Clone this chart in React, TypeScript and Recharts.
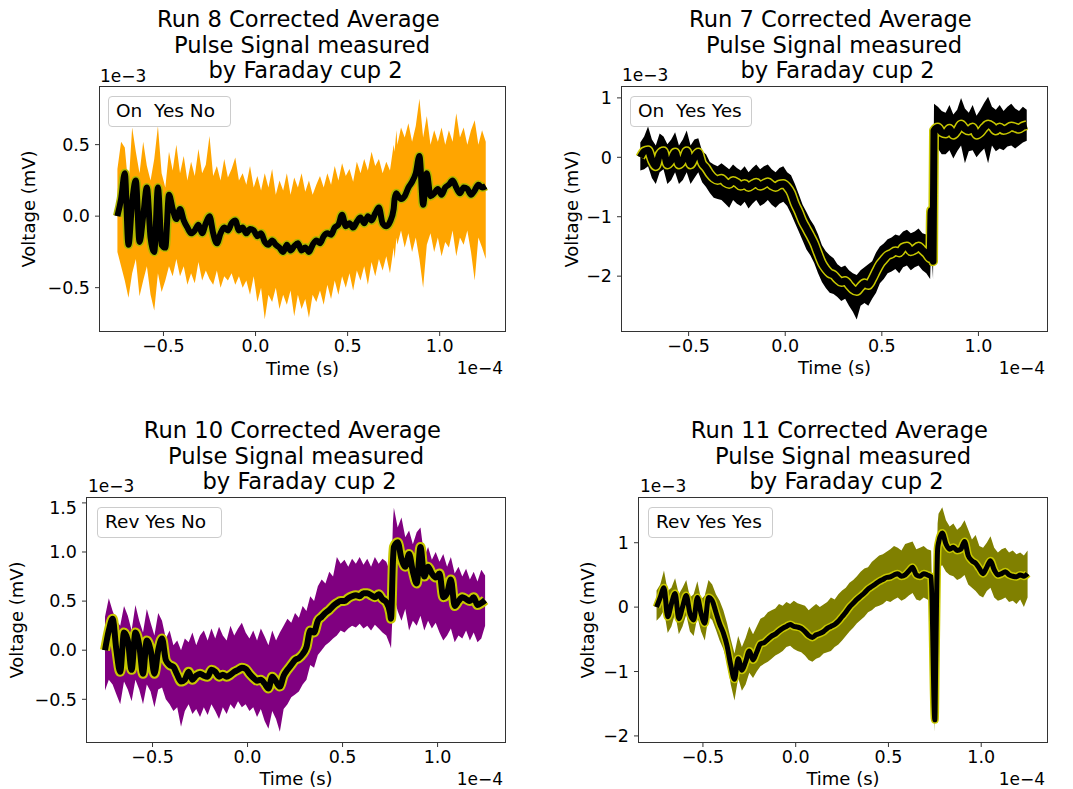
import { ComposedChart, Area, Line, XAxis, YAxis, Label } from 'recharts';

// sample times, units of 1e-4 s (extra samples around the 0.76 edge)
const TIME = [
  -0.75, -0.73, -0.71, -0.69, -0.67, -0.65, -0.63, -0.61, -0.59, -0.57,
  -0.55, -0.53, -0.51, -0.49, -0.47, -0.45, -0.43, -0.41, -0.39, -0.37,
  -0.35, -0.33, -0.31, -0.29, -0.27, -0.25, -0.23, -0.21, -0.19, -0.17,
  -0.15, -0.13, -0.11, -0.09, -0.07, -0.05, -0.03, -0.01, 0.01, 0.03,
  0.05, 0.07, 0.09, 0.11, 0.13, 0.15, 0.17, 0.19, 0.21, 0.23,
  0.25, 0.27, 0.29, 0.31, 0.33, 0.35, 0.37, 0.39, 0.41, 0.43,
  0.45, 0.47, 0.49, 0.51, 0.53, 0.55, 0.57, 0.59, 0.61, 0.63,
  0.65, 0.67, 0.69, 0.71, 0.73, 0.75,
  0.755, 0.765,
  0.77, 0.79, 0.81, 0.83, 0.85, 0.87, 0.89, 0.91, 0.93, 0.95,
  0.97, 0.99, 1.01, 1.03, 1.05, 1.07, 1.09, 1.11, 1.13, 1.15,
  1.17, 1.19, 1.21, 1.23, 1.25,
];

// voltages in units of 1e-3 mV
const RUN8_UPPER = [
  0.33, 0.52, 0.48, 0.2, 0.62, 0.45, 0.3, 0.52, 0.35, 0.25,
  0.4, 0.63, 0.3, 0.2, 0.45, 0.32, 0.5, 0.3, 0.42, 0.25,
  0.38, 0.28, 0.47, 0.3, 0.36, 0.56, 0.28, 0.35, 0.25, 0.4,
  0.27, 0.33, 0.41, 0.25, 0.3, 0.22, 0.35, 0.2, 0.28, 0.18,
  0.3, 0.2, 0.33, 0.15, 0.25, 0.18, 0.3, 0.15, 0.27, 0.2,
  0.3, 0.17, 0.25, 0.15, 0.22, 0.28, 0.2, 0.3, 0.22, 0.35,
  0.25, 0.37, 0.28, 0.33, 0.24, 0.38, 0.3, 0.4, 0.32, 0.45,
  0.35, 0.4, 0.3, 0.38, 0.32, 0.5,
  0.45, 0.6,
  0.5, 0.62, 0.55, 0.65, 0.52, 0.63, 0.82, 0.55, 0.7, 0.5,
  0.6, 0.52, 0.62, 0.5, 0.6, 0.52, 0.72, 0.55, 0.62, 0.5,
  0.6, 0.67, 0.5, 0.6, 0.52,
];
const RUN8_LOWER = [
  -0.25, -0.35, -0.45, -0.57, -0.4, -0.3, -0.56, -0.45, -0.35, -0.55,
  -0.66, -0.4, -0.53, -0.45, -0.35, -0.42, -0.3, -0.42, -0.35, -0.48,
  -0.4, -0.47, -0.32, -0.45, -0.38, -0.44, -0.48, -0.38, -0.5, -0.42,
  -0.45, -0.4, -0.48, -0.42, -0.5, -0.45, -0.55, -0.42, -0.6, -0.5,
  -0.72, -0.55, -0.6, -0.5, -0.65, -0.55, -0.62, -0.52, -0.7, -0.55,
  -0.65, -0.58, -0.71, -0.55, -0.6, -0.52, -0.62, -0.48, -0.58, -0.45,
  -0.55, -0.42, -0.5, -0.4, -0.52, -0.38, -0.45, -0.35, -0.48, -0.32,
  -0.42, -0.3, -0.38, -0.28, -0.4, -0.22,
  -0.3, -0.15,
  -0.2, -0.1, -0.22, -0.12, -0.25, -0.15, -0.3, -0.5, -0.2, -0.12,
  -0.25, -0.15, -0.28, -0.18, -0.22, -0.1, -0.28, -0.15, -0.2, -0.1,
  -0.25, -0.45, -0.15, -0.22, -0.3,
];
const RUN8_MEAN = [
  0.0, 0.12, 0.3, -0.2, 0.1, 0.25, -0.18, 0.0, 0.2, -0.15,
  -0.25, 0.2, -0.2, -0.22, 0.15, 0.05, -0.02, 0.05, -0.03, -0.08,
  -0.12, -0.1, -0.06, -0.12, -0.05, 0.0, -0.12, -0.19, -0.12, -0.08,
  -0.1, -0.05, -0.03, -0.1, -0.08, -0.12, -0.09, -0.1, -0.14, -0.12,
  -0.18, -0.2, -0.17, -0.2, -0.22, -0.25, -0.2, -0.24, -0.21, -0.19,
  -0.24, -0.22, -0.25, -0.2, -0.17, -0.19, -0.14, -0.12, -0.13, -0.08,
  -0.06, 0.01, -0.07, -0.05, -0.08, -0.04, -0.01, -0.05, 0.0, -0.03,
  0.02, 0.06, -0.05, -0.07, -0.04, 0.05,
  0.12, 0.16,
  0.15, 0.12, 0.14, 0.2, 0.24, 0.3, 0.42, 0.08, 0.3, 0.14,
  0.16, 0.19, 0.15, 0.2, 0.22, 0.25, 0.2, 0.16, 0.2, 0.19,
  0.15, 0.18, 0.22, 0.2, 0.21,
];

const RUN7_UPPER = [
  0.25, 0.35, 0.52, 0.3, 0.2, 0.4, 0.35, 0.22, 0.3, 0.42,
  0.2, 0.3, 0.45, 0.2, 0.3, 0.32, 0.1, 0.05, -0.08, -0.12,
  -0.15, -0.1, -0.15, -0.2, -0.12, -0.18, -0.22, -0.15, -0.25, -0.18,
  -0.12, -0.2, -0.15, -0.12, -0.2, -0.25, -0.18, -0.15, -0.25, -0.3,
  -0.45, -0.62, -0.8, -0.92, -1.05, -1.15, -1.3, -1.48, -1.58, -1.65,
  -1.7, -1.8, -1.85, -1.82, -1.9, -1.95, -1.98, -1.9, -1.85, -1.8,
  -1.75, -1.6, -1.5, -1.45, -1.38, -1.35, -1.3, -1.32, -1.25, -1.22,
  -1.28, -1.25, -1.2, -1.28, -1.3, -1.35,
  -0.5, -1.45,
  0.9, 0.85, 0.78, 0.75, 0.88, 0.72, 0.8, 1.0, 0.82, 0.75,
  0.88, 0.7, 0.8, 0.92, 1.02, 0.85, 0.8, 0.88, 0.78, 0.85,
  0.9, 0.82, 0.78, 0.85, 0.8,
];
const RUN7_LOWER = [
  -0.22, -0.2, -0.15, -0.35, -0.45, -0.25, -0.2, -0.45, -0.38, -0.25,
  -0.45, -0.38, -0.25, -0.45, -0.35, -0.25, -0.42, -0.5, -0.6, -0.68,
  -0.7, -0.72, -0.78, -0.85, -0.72, -0.78, -0.82, -0.75, -0.86, -0.78,
  -0.72, -0.82, -0.78, -0.72, -0.8, -0.85, -0.78, -0.75, -0.82, -0.95,
  -1.1, -1.25, -1.4, -1.55, -1.65, -1.78, -1.95, -2.1, -2.2, -2.28,
  -2.3, -2.35, -2.42, -2.38, -2.5, -2.6, -2.73, -2.5, -2.45, -2.5,
  -2.38, -2.28, -2.12, -2.05, -1.95, -1.92, -1.88, -1.95, -1.85, -1.82,
  -1.9, -1.85, -1.82, -1.9, -1.95, -2.05,
  -1.5, -2.05,
  0.1, 0.15, 0.05, 0.05, 0.12, -0.02, 0.1, 0.2, -0.1, 0.1,
  0.12, 0.0, 0.08, 0.15, -0.1, 0.2, 0.1, 0.15, 0.12, 0.18,
  0.2, 0.15, 0.2, 0.25, 0.28,
];
const RUN7_MEAN = [
  0.0, 0.1, 0.12, -0.05, -0.15, 0.05, 0.1, -0.12, -0.05, 0.08,
  -0.12, -0.05, 0.1, -0.12, 0.0, 0.08, -0.1, -0.18, -0.28, -0.35,
  -0.38, -0.36, -0.42, -0.45, -0.4, -0.43, -0.48, -0.45, -0.5, -0.46,
  -0.43, -0.48, -0.45, -0.42, -0.47, -0.5, -0.46, -0.45, -0.5, -0.6,
  -0.78, -0.92, -1.08, -1.2, -1.32, -1.45, -1.62, -1.78, -1.88, -1.95,
  -1.98, -2.05, -2.1, -2.08, -2.15, -2.22, -2.25, -2.18, -2.12, -2.15,
  -2.05, -1.92, -1.8, -1.72, -1.65, -1.62, -1.58, -1.6, -1.52, -1.5,
  -1.58, -1.55, -1.5, -1.56, -1.62, -1.7,
  -0.9, -1.75,
  0.45, 0.5, 0.42, 0.4, 0.48, 0.38, 0.45, 0.55, 0.48, 0.45,
  0.5, 0.38, 0.42, 0.5, 0.55, 0.52, 0.45, 0.5, 0.46, 0.48,
  0.52, 0.5, 0.48, 0.52, 0.54,
];

const RUN10_UPPER = [
  0.34, 0.53, 0.4, 0.3, 0.25, 0.45, 0.35, 0.2, 0.46, 0.3,
  0.18, 0.42, 0.28, 0.15, 0.38, 0.3, 0.12, 0.2, 0.05, 0.1,
  0.0, 0.12, 0.08, 0.18, 0.05, 0.15, 0.2, 0.1, 0.22, 0.12,
  0.24, 0.15, 0.1, 0.25, 0.15, 0.22, 0.28, 0.18, 0.12, 0.2,
  0.1, 0.22, 0.14, 0.05, 0.2, 0.1, 0.18, 0.25, 0.32, 0.28,
  0.38, 0.33, 0.45, 0.4, 0.55, 0.5, 0.65, 0.72, 0.68, 0.8,
  0.75, 0.95, 0.88, 0.92, 0.85, 0.93, 0.88, 0.95, 0.87, 0.93,
  0.85, 0.95, 0.88, 0.93, 0.9, 0.8,
  0.6, 1.3,
  1.45, 1.25, 1.35, 1.15, 1.22, 1.08, 1.2, 1.25, 0.95, 1.05,
  0.92, 1.0, 0.9, 0.98, 0.85, 0.95, 0.78, 0.85, 0.75, 0.83,
  0.72, 0.8, 0.7, 0.82, 0.76,
];
const RUN10_LOWER = [
  -0.41, -0.3, -0.35, -0.45, -0.55, -0.32, -0.4, -0.52, -0.3, -0.4,
  -0.55, -0.35, -0.42, -0.58, -0.4, -0.38, -0.5, -0.55, -0.62, -0.58,
  -0.78, -0.62, -0.55, -0.65, -0.6, -0.68, -0.58, -0.66, -0.55, -0.62,
  -0.7, -0.58, -0.65, -0.55, -0.6, -0.52, -0.58, -0.55, -0.62, -0.58,
  -0.68, -0.6, -0.72, -0.8, -0.62, -0.7, -0.83, -0.6, -0.55, -0.48,
  -0.45, -0.42, -0.35, -0.3, -0.15, -0.18, -0.05, 0.0, 0.05, 0.08,
  0.12, 0.15, 0.2, 0.18, 0.22, 0.25, 0.23, 0.27, 0.22, 0.25,
  0.2, 0.26, 0.22, 0.18, 0.15, 0.05,
  0.02, 0.45,
  0.55, 0.4, 0.3, 0.42, 0.2, 0.3, 0.25, 0.35, 0.2, 0.3,
  0.22, 0.28, 0.18, 0.1, 0.15, 0.22, 0.08, 0.15, 0.12, 0.2,
  0.1, 0.18, 0.08, 0.12, 0.25,
];
const RUN10_MEAN = [
  0.0, 0.2, 0.32, 0.0, -0.22, 0.18, 0.1, -0.2, 0.18, 0.05,
  -0.24, 0.1, 0.0, -0.24, 0.0, 0.12, -0.1, -0.15, -0.17, -0.25,
  -0.32, -0.3, -0.22, -0.3, -0.26, -0.24, -0.26, -0.27, -0.2, -0.22,
  -0.27, -0.25, -0.27, -0.25, -0.22, -0.2, -0.18, -0.19, -0.24, -0.28,
  -0.31, -0.3, -0.34, -0.39, -0.27, -0.32, -0.37, -0.26, -0.2, -0.15,
  -0.1, -0.08, -0.04, 0.03, 0.2, 0.18, 0.3, 0.34, 0.38, 0.41,
  0.45, 0.48, 0.5, 0.5, 0.53, 0.55, 0.56, 0.55, 0.58, 0.58,
  0.56, 0.54, 0.57, 0.52, 0.49, 0.38,
  0.32, 0.9,
  1.05, 1.1, 0.93, 0.85, 0.98, 0.8, 0.68, 1.05, 0.75, 0.85,
  0.78, 0.74, 0.78, 0.54, 0.58, 0.72, 0.45, 0.5, 0.54, 0.52,
  0.5, 0.54, 0.46, 0.48, 0.51,
];

const RUN11_UPPER = [
  0.26, 0.35, 0.57, 0.25, 0.3, 0.45, 0.2, 0.3, 0.42, 0.15,
  0.2, 0.4, 0.12, 0.18, 0.42, 0.35, 0.2, 0.1, -0.05, -0.25,
  -0.5, -0.72, -0.45, -0.62, -0.48, -0.3, -0.42, -0.3, -0.18, -0.15,
  -0.08, -0.05, -0.02, 0.05, 0.02, 0.08, 0.05, 0.1, 0.06, 0.04,
  0.02, -0.05, 0.0, 0.05, 0.0, 0.04, 0.08, 0.15, 0.12, 0.2,
  0.26, 0.3, 0.38, 0.42, 0.48, 0.55, 0.6, 0.62, 0.7, 0.75,
  0.8, 0.82, 0.86, 0.9, 0.95, 0.92, 0.88, 0.98, 1.0, 1.02,
  0.9, 0.92, 0.95, 0.9, 0.88, -1.5,
  -0.4, 1.3,
  1.45, 1.55, 1.35, 1.25, 1.3, 1.2, 1.25, 1.35, 1.2, 1.05,
  1.12, 0.95, 0.92, 1.0, 1.1, 0.92, 0.85, 0.9, 0.92, 0.85,
  0.88, 0.82, 0.85, 0.8, 0.88,
];
const RUN11_LOWER = [
  -0.21, -0.15, -0.05, -0.4, -0.3, -0.1, -0.42, -0.3, -0.12, -0.38,
  -0.45, -0.15, -0.38, -0.52, -0.15, -0.2, -0.35, -0.52, -0.65, -0.85,
  -1.2, -1.45, -1.1, -1.3, -1.2, -1.02, -1.1, -1.0, -0.92, -0.88,
  -0.85, -0.8, -0.75, -0.72, -0.68, -0.62, -0.6, -0.65, -0.68, -0.7,
  -0.75, -0.82, -0.85, -0.8, -0.78, -0.72, -0.7, -0.68, -0.62, -0.58,
  -0.52, -0.45, -0.38, -0.32, -0.25, -0.2, -0.15, -0.08, -0.05, 0.0,
  0.02, 0.05, 0.1, 0.08, 0.12, 0.15, 0.1, 0.13, 0.18, 0.22,
  0.12, 0.1, 0.15, 0.12, 0.08, -1.94,
  -1.2, 0.5,
  0.62, 0.65, 0.55, 0.5, 0.48, 0.42, 0.45, 0.5, 0.35, 0.3,
  0.25, 0.18, 0.15, 0.25, 0.3, 0.15, 0.1, 0.12, 0.15, 0.08,
  0.1, 0.05, 0.12, 0.0, 0.15,
];
const RUN11_MEAN = [
  0.0, 0.15, 0.3, -0.15, 0.05, 0.21, -0.18, 0.0, 0.18, -0.1,
  -0.2, 0.15, -0.1, -0.25, 0.15, 0.1, -0.08, -0.26, -0.4, -0.6,
  -0.9, -1.12, -0.8, -0.98, -0.85, -0.68, -0.82, -0.7, -0.57, -0.55,
  -0.5, -0.45, -0.42, -0.37, -0.33, -0.3, -0.27, -0.3, -0.31, -0.33,
  -0.38, -0.44, -0.47, -0.43, -0.41, -0.38, -0.33, -0.3, -0.27, -0.22,
  -0.15, -0.08, 0.0, 0.06, 0.12, 0.17, 0.22, 0.28, 0.32, 0.36,
  0.4, 0.43, 0.46, 0.47, 0.5, 0.52, 0.48, 0.5, 0.56, 0.62,
  0.5, 0.48, 0.52, 0.5, 0.47, -1.75,
  -0.8, 0.9,
  1.0, 1.15, 0.98, 0.9, 0.93, 0.88, 0.9, 1.02, 0.8, 0.72,
  0.68, 0.6, 0.52, 0.62, 0.72, 0.58, 0.5, 0.52, 0.55, 0.5,
  0.48, 0.47, 0.5, 0.48, 0.52,
];

const X_TICKS = [-0.5, 0, 0.5, 1.0];
const Y_TICKS_SMALL = [-0.5, 0, 0.5];
const Y_TICKS_WIDE = [-2, -1, 0, 1];
const Y_TICKS_RUN10 = [-0.5, 0, 0.5, 1.0, 1.5];

const minus = (v: number, digits: number) => (v < 0 ? '\u2212' : '') + Math.abs(v).toFixed(digits);

const PANELS = [
  {
    title: ['Run 8 Corrected Average ', 'Pulse Signal measured', ' by Faraday cup 2'],
    legend: 'On  Yes No',
    upper: RUN8_UPPER, lower: RUN8_LOWER, mean: RUN8_MEAN,
    yDomain: [-0.81, 0.91], yTicks: Y_TICKS_SMALL, yDigits: 1,
    fill: '#ffa500', band: '#b0b800', bandW: 9, lineW: 6,
    left: 0, top: 86, width: 530, height: 294, yW: 99, xH: 48, right: 24, yLabel: 29,
    titleTop: 7, titleX: 302, expTop: 66, expLeft: 100, tExpTop: 358, tExpRight: 503,
    leg: { left: 108, top: 96, width: 123 },
  },
  {
    title: ['Run 7 Corrected Average ', 'Pulse Signal measured', ' by Faraday cup 2'],
    legend: 'On  Yes Yes',
    upper: RUN7_UPPER, lower: RUN7_LOWER, mean: RUN7_MEAN,
    yDomain: [-2.94, 1.2], yTicks: Y_TICKS_WIDE, yDigits: 0,
    fill: '#000000', band: '#c8c800', bandW: 10, lineW: 7,
    left: 540, top: 86, width: 528, height: 293, yW: 81, xH: 47, right: 20, yLabel: 32,
    titleTop: 7, titleX: 834, expTop: 65, expLeft: 622, tExpTop: 358, tExpRight: 1045,
    leg: { left: 630, top: 96, width: 122 },
  },
  {
    title: ['Run 10 Corrected Average ', 'Pulse Signal measured', ' by Faraday cup 2'],
    legend: 'Rev Yes No',
    upper: RUN10_UPPER, lower: RUN10_LOWER, mean: RUN10_MEAN,
    yDomain: [-0.945, 1.56], yTicks: Y_TICKS_RUN10, yDigits: 1,
    fill: '#800080', band: '#c8c800', bandW: 10, lineW: 6,
    left: 0, top: 497, width: 530, height: 293, yW: 86, xH: 47, right: 24, yLabel: 17,
    titleTop: 418, titleX: 296, expTop: 476, expLeft: 88, tExpTop: 769, tExpRight: 503,
    leg: { left: 97, top: 507, width: 125 },
  },
  {
    title: ['Run 11 Corrected Average ', 'Pulse Signal measured', ' by Faraday cup 2'],
    legend: 'Rev Yes Yes',
    upper: RUN11_UPPER, lower: RUN11_LOWER, mean: RUN11_MEAN,
    yDomain: [-2.11, 1.71], yTicks: Y_TICKS_WIDE, yDigits: 0,
    fill: '#808000', band: '#c8c800', bandW: 8, lineW: 5,
    left: 540, top: 497, width: 528, height: 293, yW: 98, xH: 47, right: 20, yLabel: 48,
    titleTop: 418, titleX: 843, expTop: 476, expLeft: 640, tExpTop: 769, tExpRight: 1045,
    leg: { left: 648, top: 507, width: 125 },
  },
];

const FONT = '"DejaVu Sans", sans-serif';

function Panel({ p }: { p: (typeof PANELS)[number] }) {
  const rows = TIME.map((t, i) => ({ t, range: [p.lower[i], p.upper[i]], mean: p.mean[i] }));
  const plotLeft = p.left + p.yW;
  const plotRight = p.left + p.width - p.right;
  const plotH = p.height - p.xH;
  return (
    <>
      <div style={{ position: 'absolute', left: p.left, top: p.top }}>
        <ComposedChart
          width={p.width}
          height={p.height}
          data={rows}
          margin={{ top: 0, right: p.right, bottom: 0, left: 0 }}
        >
          <XAxis
            dataKey="t"
            type="number"
            domain={[-0.85, 1.36]}
            ticks={X_TICKS}
            tickFormatter={(v: number) => minus(v, 1)}
            height={p.xH}
            axisLine={false}
            tickSize={4}
            tickMargin={4}
            tick={{ fontSize: 17.5, fill: '#000' }}
            tickLine={{ stroke: '#333' }}
          >
            <Label value="Time (s)" position="insideBottom" offset={5} style={{ fontSize: 18, fill: '#000' }} />
          </XAxis>
          <YAxis
            type="number"
            domain={p.yDomain}
            ticks={p.yTicks}
            tickFormatter={(v: number) => minus(v, p.yDigits)}
            width={p.yW}
            axisLine={false}
            tickSize={4}
            tickMargin={5}
            tick={{ fontSize: 17.5, fill: '#000' }}
            tickLine={{ stroke: '#333' }}
          >
            <Label
              value="Voltage (mV)"
              angle={-90}
              position="insideLeft"
              offset={p.yLabel}
              style={{ fontSize: 18, fill: '#000', textAnchor: 'middle' }}
            />
          </YAxis>
          {/* spread of the individual pulses */}
          <Area
            dataKey="range"
            type="linear"
            stroke="none"
            fill={p.fill}
            fillOpacity={1}
            dot={false}
            activeDot={false}
            isAnimationActive={false}
          />
          {/* yellow error band edge, then the black average on top */}
          <Line
            dataKey="mean"
            type="monotone"
            stroke={p.band}
            strokeWidth={p.bandW}
            strokeLinejoin="round"
            dot={false}
            activeDot={false}
            isAnimationActive={false}
          />
          <Line
            dataKey="mean"
            type="monotone"
            stroke="#000"
            strokeWidth={p.lineW}
            strokeLinejoin="round"
            dot={false}
            activeDot={false}
            isAnimationActive={false}
          />
        </ComposedChart>
      </div>
      {/* axes frame */}
      <div
        style={{
          position: 'absolute', left: plotLeft, top: p.top, width: plotRight - plotLeft, height: plotH,
          border: '1px solid #333', boxSizing: 'border-box', pointerEvents: 'none',
        }}
      />
      <div
        style={{
          position: 'absolute', left: p.titleX - 200, top: p.titleTop, width: 400, textAlign: 'center',
          fontSize: 22.6, lineHeight: '25.5px', whiteSpace: 'pre', color: '#000',
        }}
      >
        {p.title.map((s) => (
          <div key={s}>{s}</div>
        ))}
      </div>
      <div style={{ position: 'absolute', left: p.expLeft, top: p.expTop, fontSize: 17, lineHeight: '20px' }}>1e−3</div>
      <div
        style={{
          position: 'absolute', left: p.tExpRight - 100, width: 100, top: p.tExpTop, textAlign: 'right',
          fontSize: 17, lineHeight: '20px',
        }}
      >
        1e−4
      </div>
      <div
        style={{
          position: 'absolute', left: p.leg.left, top: p.leg.top, width: p.leg.width, height: 31,
          boxSizing: 'border-box', border: '1px solid #cccccc', borderRadius: 4,
          background: 'rgba(255,255,255,0.8)', fontSize: 18.5, lineHeight: '28px', paddingLeft: 7,
          whiteSpace: 'pre', color: '#000',
        }}
      >
        {p.legend}
      </div>
    </>
  );
}

export default function App() {
  return (
    <div
      style={{
        position: 'absolute', left: 0, top: 0, width: 1073, height: 789, background: '#fff',
        fontFamily: FONT, overflow: 'hidden',
      }}
    >
      {PANELS.map((p, i) => (
        <Panel key={i} p={p} />
      ))}
    </div>
  );
}
